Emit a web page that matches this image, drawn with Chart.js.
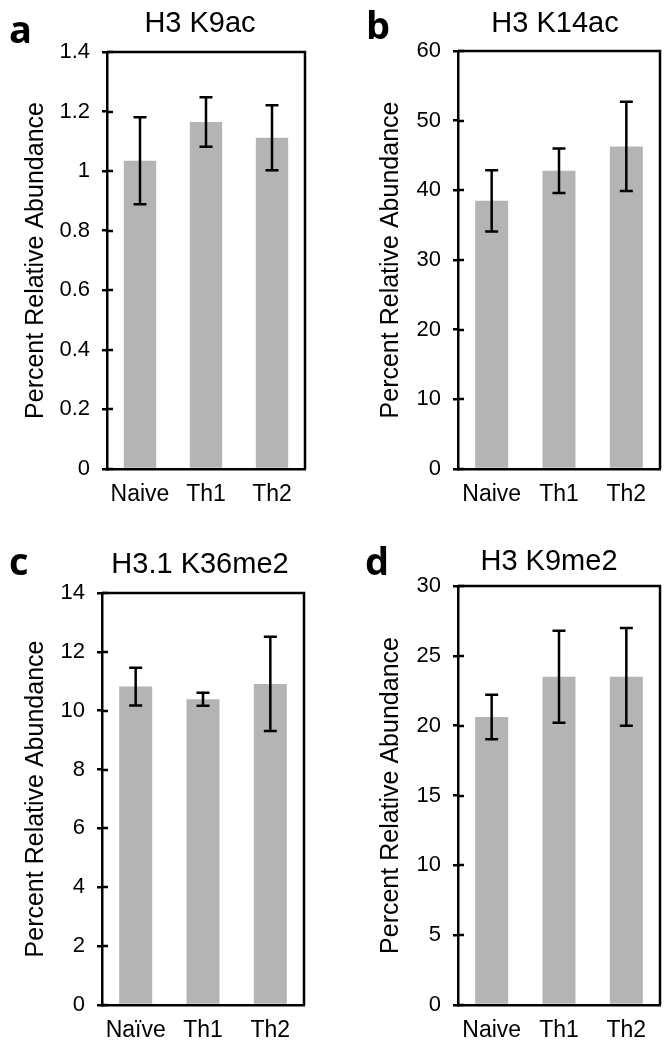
<!DOCTYPE html>
<html>
<head>
<meta charset="utf-8">
<script src="https://cdn.jsdelivr.net/npm/chart.js@4.4.1/dist/chart.umd.min.js"></script>
<style>
  html, body { margin: 0; padding: 0; background: #fff; }
  body { width: 669px; height: 1050px; position: relative; overflow: hidden; }
  canvas { position: absolute; }
</style>
</head>
<body>
<canvas id="cA" width="330" height="515" style="left:0px;top:0px;width:330px;height:515px"></canvas>
<canvas id="cB" width="339" height="515" style="left:330px;top:0px;width:339px;height:515px"></canvas>
<canvas id="cC" width="330" height="530" style="left:0px;top:520px;width:330px;height:530px"></canvas>
<canvas id="cD" width="339" height="530" style="left:330px;top:520px;width:339px;height:530px"></canvas>
<script>
// ---------------- DATA ----------------
const categories = ['Naive', 'Th1', 'Th2'];
const categoriesC = ['Na\u00efve', 'Th1', 'Th2'];

const k9acMeans = [1.035, 1.165, 1.112];
const k9acErrors = [0.146, 0.083, 0.109];
const k9acTicks = [0, 0.2, 0.4, 0.6, 0.8, 1, 1.2, 1.4];

const k14acMeans = [38.5, 42.8, 46.3];
const k14acErrors = [4.4, 3.2, 6.4];
const k14acTicks = [0, 10, 20, 30, 40, 50, 60];

const k36me2Means = [10.82, 10.39, 10.91];
const k36me2Errors = [0.64, 0.22, 1.6];
const k36me2Ticks = [0, 2, 4, 6, 8, 10, 12, 14];

const k9me2Means = [20.62, 23.5, 23.5];
const k9me2Errors = [1.6, 3.3, 3.5];
const k9me2Ticks = [0, 5, 10, 15, 20, 25, 30];

const titles = ['H3 K9ac', 'H3 K14ac', 'H3.1 K36me2', 'H3 K9me2'];
const letters = ['a', 'b', 'c', 'd'];
const yAxisTitle = 'Percent Relative Abundance';

// ---------------- STYLE ----------------
const FONT = "'Liberation Sans', Arial, Helvetica, sans-serif";
const BAR_COLOR = '#b4b4b4';
const LINE_W = 2.5;

Chart.defaults.font.family = FONT;
Chart.defaults.color = '#000';

// error bars, inner ticks, frame, title, panel letter
const decorPlugin = {
  id: 'decor',
  afterDatasetsDraw(chart, args, opts) {
    const ctx = chart.ctx;
    const meta = chart.getDatasetMeta(0);
    const ys = chart.scales.y;
    const errs = opts.errors || [];
    const means = chart.data.datasets[0].data;
    ctx.save();
    ctx.strokeStyle = '#000';
    ctx.lineWidth = LINE_W;
    ctx.lineCap = 'butt';
    meta.data.forEach((bar, i) => {
      const x = bar.x;
      const yt = ys.getPixelForValue(means[i] + errs[i]);
      const yb = ys.getPixelForValue(means[i] - errs[i]);
      ctx.beginPath();
      ctx.moveTo(x, yt); ctx.lineTo(x, yb);
      ctx.moveTo(x - 6.5, yt); ctx.lineTo(x + 6.5, yt);
      ctx.moveTo(x - 6.5, yb); ctx.lineTo(x + 6.5, yb);
      ctx.stroke();
    });
    ctx.restore();
  },
  afterDraw(chart, args, opts) {
    const ctx = chart.ctx;
    const ca = chart.chartArea;
    const ys = chart.scales.y;
    ctx.save();
    ctx.strokeStyle = '#000';
    ctx.lineWidth = LINE_W;
    // frame top & right
    ctx.beginPath();
    ctx.moveTo(ca.left, ca.top); ctx.lineTo(ca.right, ca.top); ctx.lineTo(ca.right, ca.bottom);
    ctx.stroke();
    // inner half of the cross tick marks
    ys.ticks.forEach(t => {
      const y = Math.round(ys.getPixelForValue(t.value));
      ctx.beginPath();
      ctx.moveTo(ca.left, y); ctx.lineTo(ca.left + 6, y);
      ctx.stroke();
    });
    // title
    ctx.fillStyle = '#000';
    ctx.font = '29px ' + FONT;
    ctx.textAlign = 'center';
    ctx.textBaseline = 'middle';
    ctx.fillText(opts.title, opts.titleX, opts.titleY);
    // panel letter
    ctx.font = "bold 38px 'Open Sans', 'Liberation Sans', sans-serif";
    ctx.textAlign = 'left';
    ctx.textBaseline = 'alphabetic';
    ctx.fillText(opts.letter, opts.letterX, opts.letterY);
    ctx.restore();
  }
};

function makeChart(id, labels, means, errors, ticks, lay) {
  const ctx = document.getElementById(id);
  return new Chart(ctx, {
    type: 'bar',
    data: {
      labels: labels,
      datasets: [{
        data: means,
        backgroundColor: BAR_COLOR,
        borderWidth: 0,
        categoryPercentage: 1.0,
        barPercentage: 0.49
      }]
    },
    options: {
      responsive: false,
      animation: false,
      devicePixelRatio: 1,
      layout: { padding: { left: 0, right: lay.padRight, top: lay.top, bottom: 0 } },
      plugins: {
        legend: { display: false },
        tooltip: { enabled: false },
        title: { display: false },
        decor: {
          errors: errors,
          title: lay.title, titleX: lay.titleX, titleY: lay.titleY,
          letter: lay.letter, letterX: lay.letterX, letterY: lay.letterY
        }
      },
      scales: {
        x: {
          grid: { display: false, drawTicks: false },
          border: { display: true, color: '#000', width: LINE_W },
          ticks: { font: { size: 23, family: FONT }, color: '#000', padding: 12, maxRotation: 0 },
          afterFit(scale) { scale.height = lay.xAxisH; }
        },
        y: {
          min: ticks[0],
          max: ticks[ticks.length - 1],
          afterBuildTicks(scale) { scale.ticks = ticks.map(v => ({ value: v })); },
          grid: { display: true, drawOnChartArea: false, drawTicks: true, tickLength: 5, color: '#000', lineWidth: LINE_W },
          border: { display: true, color: '#000', width: LINE_W },
          ticks: {
            font: { size: 22, family: FONT }, color: '#000', padding: 12,
            callback: (v) => String(Math.round(v * 10) / 10)
          },
          title: {
            display: true, text: yAxisTitle, color: '#000',
            font: { size: 25, family: FONT },
            padding: { top: lay.yTitlePad, bottom: 0 }
          },
          afterFit(scale) { scale.width = lay.axisW; }
        }
      }
    },
    plugins: [decorPlugin]
  });
}

makeChart('cA', categories, k9acMeans, k9acErrors, k9acTicks, {
  padRight: 25, top: 52, xAxisH: 46, axisW: 107, yTitlePad: 21.3,
  title: titles[0], titleX: 200, titleY: 24, letter: letters[0], letterX: 9, letterY: 42.5
});
makeChart('cB', categories, k14acMeans, k14acErrors, k14acTicks, {
  padRight: 9, top: 51, xAxisH: 46, axisW: 128, yTitlePad: 46.3,
  title: titles[1], titleX: 225, titleY: 23.5, letter: letters[1], letterX: 36, letterY: 39
});
makeChart('cC', categoriesC, k36me2Means, k36me2Errors, k36me2Ticks, {
  padRight: 26, top: 73, xAxisH: 45, axisW: 102, yTitlePad: 21.3,
  title: titles[2], titleX: 200, titleY: 44.7, letter: letters[2], letterX: 9, letterY: 55
});
makeChart('cD', categories, k9me2Means, k9me2Errors, k9me2Ticks, {
  padRight: 9, top: 66, xAxisH: 45, axisW: 128, yTitlePad: 46.3,
  title: titles[3], titleX: 219, titleY: 42, letter: letters[3], letterX: 35, letterY: 55
});
</script>
</body>
</html>
